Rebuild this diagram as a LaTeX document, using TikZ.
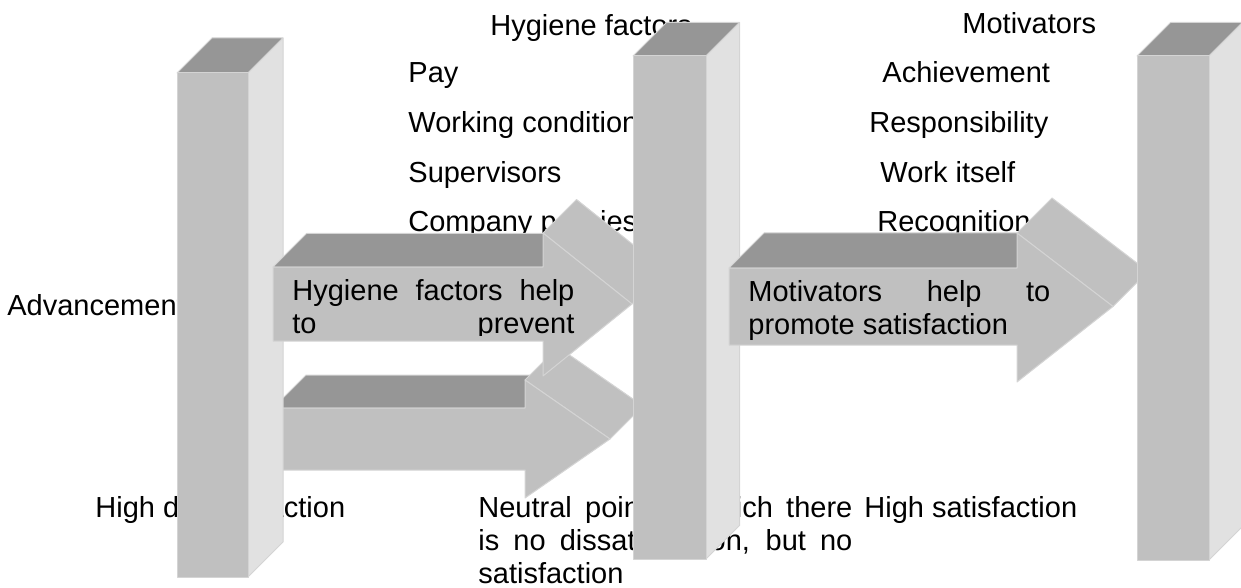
\documentclass[tikz,border=0pt]{standalone}
\usepackage{fontspec}
\setmainfont{Liberation Sans}

\definecolor{frontgray}{RGB}{192,192,192}
\definecolor{topgray}{RGB}{150,150,150}
\definecolor{sidegray}{RGB}{225,225,225}
\definecolor{edgegray}{RGB}{212,212,212}

% x, width, top, bottom, depth
\newcommand{\drawpillar}[5]{%
  \filldraw[topface] (#1,#3) -- ++(#5,-#5) -- ++(#2,0) -- (#1+#2,#3) -- cycle;
  \filldraw[sideface] (#1+#2,#3) -- ++(#5,-#5) -- (#1+#2+#5,#4-#5) -- (#1+#2,#4) -- cycle;
  \filldraw[frontface] (#1,#3) rectangle (#1+#2,#4);
}
% left, shaft top, shaft bottom, shaft end, head top, head bottom, tip, depth
\newcommand{\drawarrow}[8]{%
  \filldraw[topface] (#1,#2) -- ++(#8,-#8) -- (#4+#8,#2-#8) -- (#4,#2) -- cycle;
  \filldraw[frontface] (#4,#5) -- ++(#8,-#8) -- (#7+#8,{(#2+#3)/2-#8}) -- (#7,{(#2+#3)/2}) -- cycle;
  \filldraw[frontface] (#1,#2) -- (#4,#2) -- (#4,#5) -- (#7,{(#2+#3)/2}) -- (#4,#6) -- (#4,#3) -- (#1,#3) -- cycle;
}

\begin{document}
\begin{tikzpicture}[x=0.5pt,y=-0.5pt,
   txt/.style={anchor=base west,inner sep=0pt,font=\fontsize{14.5}{16.5}\selectfont},
   face/.style={draw=edgegray,line width=0.5pt,line join=round},
   frontface/.style={face,fill=frontgray},
   topface/.style={face,fill=topgray},
   sideface/.style={face,fill=sidegray}]
\useasboundingbox (0,0) rectangle (1241,588);

% texts behind the blocks
\node[txt] (hyg) at (490,36) {Hygiene factors};
\node[txt] (pay) at (408,83) {Pay};
\node[txt] (work) at (408,133) {Working conditions};
\node[txt] (sup) at (408,183) {Supervisors};
\node[txt] (comp) at (408,232) {Company policies};
\node[txt] (mot) at (962,34) {Motivators};
\node[txt] (ach) at (882,83) {Achievement};
\node[txt] (resp) at (869,133) {Responsibility};
\node[txt] (wself) at (880,183) {Work itself};
\node[txt] (recog) at (877,232) {Recognition};
\node[txt] (adv) at (7,315) {Advancement};
\node[txt] (highdis) at (95,517) {High dissatisfaction};
\node[txt] (neutral) at (478,517) {\vtop{\hbox to 187pt{Neutral point at which there}
   \hbox to 187pt{is no dissatisfaction, but no}\hbox{satisfaction}}};
\node[txt] (highsat) at (864,517) {High satisfaction};

% blocks, back to front
\drawarrow{273}{408}{470}{525}{380}{498}{610}{33}
\drawpillar{177}{71}{73}{577}{35}
\drawarrow{273}{267}{341}{543}{233}{376}{632}{33.5}
\begin{scope}
  \clip (288,265) rectangle (580,335);
  \node[txt] (hygtext) at (292,300) {\vtop{\hbox to 141pt{Hygiene factors help}
     \hbox to 141pt{to prevent}}};
\end{scope}
\drawpillar{633}{73}{56}{559}{33.5}
\drawarrow{729}{268}{345}{1017}{233}{382}{1113}{35}
\node[txt] (mottext) at (748,301) {\vtop{\hbox to 151pt{Motivators help to}
   \hbox{promote satisfaction}}};
\drawpillar{1137}{72}{56}{560}{33.5}
\end{tikzpicture}
\end{document}
